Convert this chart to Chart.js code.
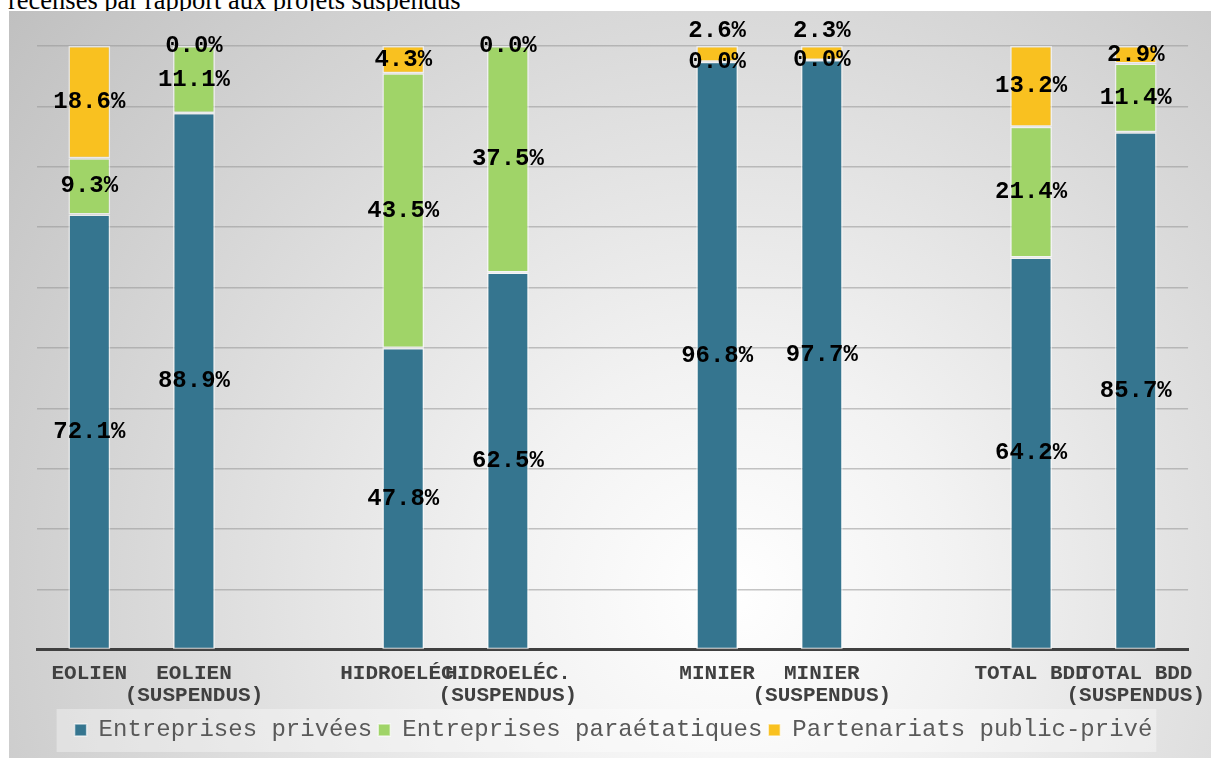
<!DOCTYPE html>
<html>
<head>
<meta charset="utf-8">
<script src="https://cdn.jsdelivr.net/npm/chart.js@4/dist/chart.umd.min.js"></script>
<style>
  html, body { margin: 0; padding: 0; width: 1211px; height: 758px; overflow: hidden; background: #fff; }
  #title {
    position: absolute; left: 8px; top: -13px;
    font-family: "Liberation Serif", "Times New Roman", serif; font-size: 26.5px; line-height: 26px;
    color: #000; white-space: nowrap;
  }
  #box {
    position: absolute; left: 9px; top: 11px; width: 1202px; height: 747px;
    background: radial-gradient(circle farthest-corner at 60% 78%, #ffffff 0%, #f2f2f2 25%, #c0c0c0 100%);
  }
</style>
</head>
<body>
<div id="title">recensés par rapport aux projets suspendus</div>
<div id="box"><canvas id="repartition" width="1202" height="747"></canvas></div>
<script>
// categories (empty ones are the gaps between groups)
const categories = [
  ["EOLIEN"], ["EOLIEN", "(SUSPENDUS)"], "",
  ["HIDROELÉC."], ["HIDROELÉC.", "(SUSPENDUS)"], "",
  ["MINIER"], ["MINIER", "(SUSPENDUS)"], "",
  ["TOTAL BDD"], ["TOTAL BDD", "(SUSPENDUS)"]
]

// percentages as shown on the labels
const privees = [72.1, 88.9, null, 47.8, 62.5, null, 96.8, 97.7, null, 64.2, 85.7]
const paraetatiques = [9.3, 11.1, null, 43.5, 37.5, null, 0.0, 0.0, null, 21.4, 11.4]
const ppp = [18.6, 0.0, null, 4.3, 0.0, null, 2.6, 2.3, null, 13.2, 2.9]

const seriesNames = ["Entreprises privées", "Entreprises paraétatiques", "Partenariats public-privé"]
const seriesColors = ["#35758f", "#a0d468", "#f9c120"]

const rawSeries = [privees, paraetatiques, ppp]

// 100% stacked: every column is scaled to its own total
const totals = categories.map((_, i) => {
  if (privees[i] === null) return null
  return privees[i] + paraetatiques[i] + ppp[i]
})
const toShare = (arr) => arr.map((v, i) => v === null ? null : v / totals[i] * 100)

const valueLabels = {
  id: "valueLabels",
  afterDatasetsDraw(chart) {
    const ctx = chart.ctx
    ctx.save()
    ctx.font = "bold 24px 'Liberation Mono', 'Courier New', monospace"
    ctx.fillStyle = "#000"
    ctx.textAlign = "center"
    ctx.textBaseline = "middle"
    chart.data.datasets.forEach((ds, d) => {
      const meta = chart.getDatasetMeta(d)
      meta.data.forEach((el, i) => {
        const v = rawSeries[d][i]
        if (v === null) return
        let y = (el.y + el.base) / 2
        // label of a thin top segment sitting on an empty one is lifted above the bar
        if (d === 2 && v > 0 && rawSeries[1][i] === 0) y = el.y - 15
        ctx.fillText(v.toFixed(1) + "%", el.x, y)
      })
    })
    ctx.restore()
  }
}

const legendBack = {
  id: "legendBack",
  beforeDraw(chart) {
    const boxes = chart.legend.legendHitBoxes
    if (!boxes || !boxes.length) return
    const left = Math.min(...boxes.map(b => b.left)) - 18
    const right = Math.max(...boxes.map(b => b.left + b.width)) + 4
    const top = boxes[0].top - 9
    const ctx = chart.ctx
    ctx.save()
    ctx.fillStyle = "rgba(255,255,255,0.35)"
    ctx.fillRect(left, top, right - left, 43)
    ctx.restore()
  }
}

const canvas = document.getElementById("repartition")
new Chart(canvas.getContext("2d"), {
  type: "bar",
  data: {
    labels: categories,
    datasets: rawSeries.map((arr, d) => ({
      label: seriesNames[d],
      data: toShare(arr),
      backgroundColor: seriesColors[d],
      borderColor: "rgba(255,255,255,0.6)",
      borderWidth: 1.5,
      borderSkipped: false,
      categoryPercentage: 1,
      barPercentage: 0.4
    }))
  },
  options: {
    responsive: false,
    animation: false,
    layout: { padding: { left: 28, right: 21, top: 35, bottom: 6 } },
    scales: {
      x: {
        stacked: true,
        grid: { display: false },
        border: { color: "#404040", width: 3 },
        ticks: {
          autoSkip: false,
          maxRotation: 0,
          padding: 5,
          color: "#404040",
          font: { family: "'Liberation Mono', 'Courier New', monospace", size: 21, weight: "bold", lineHeight: 1.05 }
        }
      },
      y: {
        stacked: true,
        min: 0,
        max: 100,
        ticks: { display: false, stepSize: 10 },
        grid: { color: "rgba(150,150,150,0.55)", lineWidth: 1.5, drawTicks: false },
        border: { display: false },
        afterFit: (s) => { s.width = 0 }
      }
    },
    plugins: {
      legend: {
        position: "bottom",
        labels: {
          boxWidth: 12,
          boxHeight: 12,
          padding: 6,
          color: "#595959",
          font: { family: "'Liberation Mono', 'Courier New', monospace", size: 24 }
        }
      },
      tooltip: { enabled: false }
    }
  },
  plugins: [valueLabels, legendBack]
})
</script>
</body>
</html>
